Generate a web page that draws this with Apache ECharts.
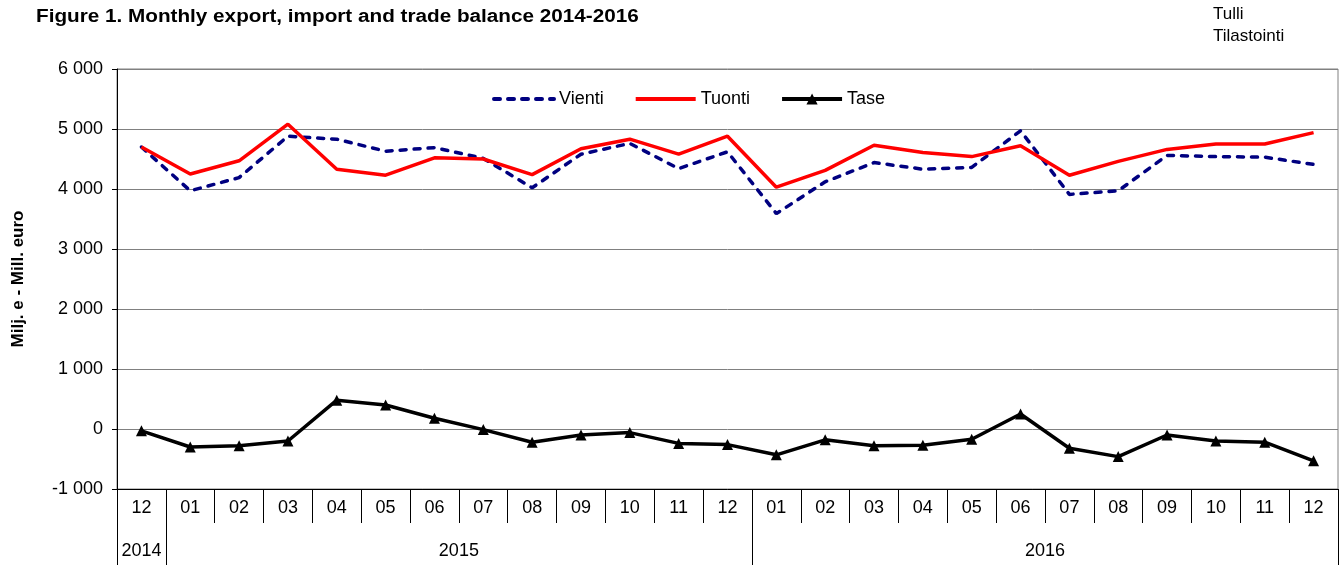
<!DOCTYPE html>
<html>
<head>
<meta charset="utf-8">
<script src="https://cdn.jsdelivr.net/npm/echarts@6/dist/echarts.min.js"></script>
<style>
html,body{margin:0;padding:0;background:#fff;}
#c{width:1343px;height:565px;}
</style>
</head>
<body>
<div id="c"></div>
<script>
const months = ['12','01','02','03','04','05','06','07','08','09','10','11','12','01','02','03','04','05','06','07','08','09','10','11','12'];
const years = ['2014','2015','2016'];
const monthsPerYear = [1,12,12];
const yTicks = {min:-1000, max:6000, interval:1000};

const vienti = [4700,3970,4190,4880,4830,4630,4690,4510,4020,4580,4760,4340,4620,3590,4120,4440,4330,4360,4970,3910,3970,4560,4540,4530,4410];
const tuonti = [4700,4250,4470,5080,4330,4230,4520,4500,4240,4670,4830,4580,4880,4030,4310,4730,4610,4540,4720,4230,4460,4660,4750,4750,4940];
const tase   = [-30,-300,-280,-200,480,400,180,-10,-220,-100,-60,-240,-260,-430,-180,-280,-270,-170,250,-320,-460,-100,-200,-220,-530];

const FONT = '"Liberation Sans", Arial, sans-serif';

// year boundaries and centres (in category units)
const bounds = [0];
monthsPerYear.forEach(n => bounds.push(bounds[bounds.length-1] + n));
const centres = years.map((y,i) => (bounds[i] + bounds[i+1]) / 2);

const chart = echarts.init(document.getElementById('c'), null, {renderer:'canvas'});
chart.setOption({
  animation:false,
  backgroundColor:'#fff',
  textStyle:{fontFamily:FONT},
  graphic:[
    {type:'text', left:36, top:8, scaleX:1.15,
     style:{text:'Figure 1. Monthly export, import and trade balance 2014-2016',
            font:'bold 18px ' + FONT, fill:'#000'}},
    {type:'text', left:1213, top:3,
     style:{text:'Tulli\nTilastointi', font:'17px ' + FONT, lineHeight:22, fill:'#000'}}
  ],
  legend:{
    left:487, top:85, itemWidth:60, itemHeight:14, itemGap:30,
    textStyle:{fontFamily:FONT, fontSize:18, color:'#000'},
    lineStyle:{width:4},
    data:[
      {name:'Vienti', itemStyle:{opacity:0}},
      {name:'Tuonti', itemStyle:{opacity:0}},
      {name:'Tase'}
    ]
  },
  grid:{left:117, right:5, top:69, bottom:76, show:true, borderColor:'#808080', borderWidth:1,
        outerBoundsMode:'none', containLabel:false},
  xAxis:[
    {type:'category', data:months, boundaryGap:true, position:'bottom',
     axisLine:{show:true, onZero:false, lineStyle:{color:'#000', width:1}},
     axisTick:{show:true, interval:0, length:34, lineStyle:{color:'#000', width:1}},
     axisLabel:{interval:0, fontSize:18, color:'#000', margin:10, fontFamily:FONT},
     splitLine:{show:false}},
    {type:'value', min:0, max:bounds[bounds.length-1], position:'bottom',
     axisLine:{show:false, onZero:false},
     axisTick:{show:true, customValues:bounds, length:76, lineStyle:{color:'#000', width:1}},
     axisLabel:{show:true, customValues:centres, fontSize:18, color:'#000', margin:53, fontFamily:FONT,
       formatter:function(v){ const i = centres.indexOf(v); return i>=0 ? years[i] : ''; }},
     splitLine:{show:false}}
  ],
  yAxis:{
    type:'value', min:yTicks.min, max:yTicks.max, interval:yTicks.interval,
    name:'Milj. e - Mill. euro', nameLocation:'middle', nameGap:90,
    nameTextStyle:{fontFamily:FONT, fontWeight:'bold', fontSize:17, color:'#000'},
    axisLine:{show:true, lineStyle:{color:'#000', width:1}},
    axisTick:{show:true, length:5, lineStyle:{color:'#000'}},
    axisLabel:{fontSize:18, color:'#000', margin:14, fontFamily:FONT,
      formatter:function(v){ return String(v).replace(/\B(?=(\d{3})+(?!\d))/g,' '); }},
    splitLine:{show:true, lineStyle:{color:'#808080', width:1}}
  },
  series:[
    {name:'Vienti', type:'line', data:vienti, symbol:'none', color:'#000080',
     lineStyle:{color:'#000080', width:3.5, type:[6,8], cap:'round'}},
    {name:'Tuonti', type:'line', data:tuonti, symbol:'none', color:'#FF0000',
     lineStyle:{color:'#FF0000', width:3.5}},
    {name:'Tase', type:'line', data:tase, symbol:'triangle', symbolSize:11, color:'#000',
     itemStyle:{color:'#000'}, lineStyle:{color:'#000', width:3.5}}
  ]
});
</script>
</body>
</html>
